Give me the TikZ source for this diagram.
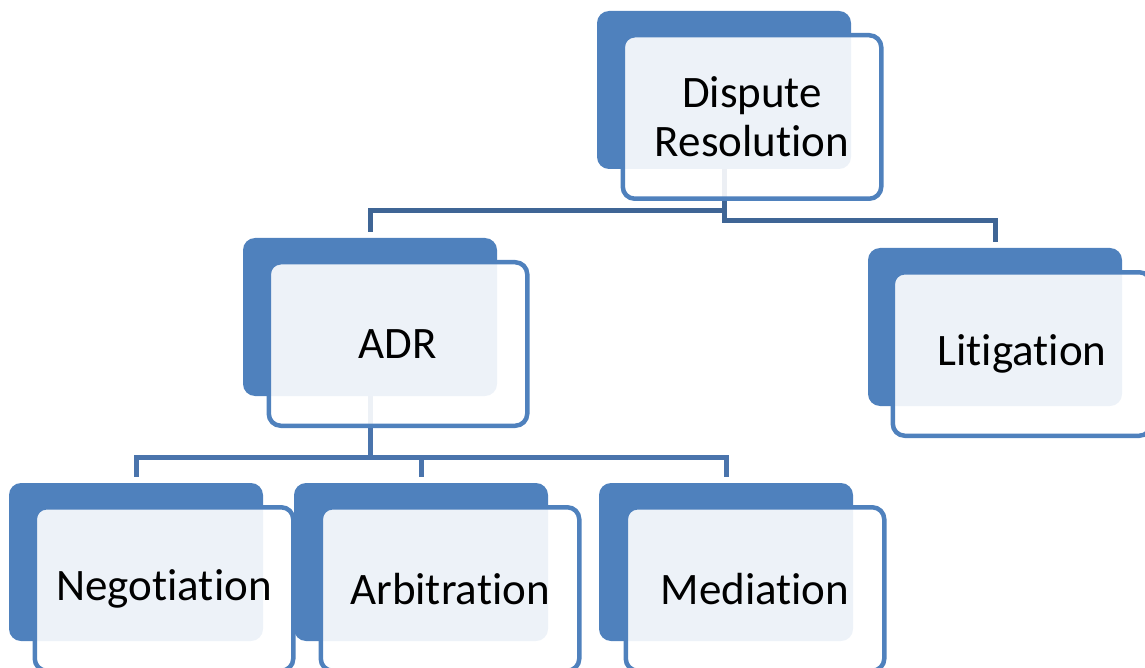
\documentclass[tikz,border=0pt]{standalone}
\usepackage{fontspec}
\setmainfont[Ligatures=NoCommon]{Carlito}
\usetikzlibrary{positioning}
\definecolor{boxblue}{HTML}{4F81BD}
\definecolor{topline}{HTML}{3F6595}
\definecolor{lowline}{HTML}{4A74AC}
\pgfdeclarelayer{background}
\pgfsetlayers{background,main}
\begin{document}
\begin{tikzpicture}[x=1pt,y=-1pt,
	backbox/.style={rectangle,rounded corners=12pt,fill=boxblue,inner sep=0pt,
		minimum width=254pt,minimum height=158pt},
	frontbox/.style={rectangle,rounded corners=12pt,draw=boxblue,line width=4.5pt,
		fill=white,fill opacity=0.9,text opacity=1,inner sep=0pt,align=center,
		minimum width=258.5pt,minimum height=163.5pt,
		font=\fontsize{45}{49}\selectfont},
	toplink/.style={draw=topline,line width=5pt},
	lowlink/.style={draw=lowline,line width=5pt}]
	\useasboundingbox (0,0) rectangle (1145,668);

	% back boxes
	\node[backbox] at (724,90) (dispback) {};
	\node[backbox] at (370,317) (adrback) {};
	\node[backbox] at (995,327) (litback) {};
	\node[backbox] at (136,562) (negback) {};
	\node[backbox] at (421,562) (arbback) {};
	\node[backbox] at (726,562) (medback) {};

	% front boxes
	\node[frontbox] at (752,117) (disp) {Dispute\\Resolution};
	\node[frontbox] at (398,344) (adr) {ADR};
	\node[frontbox] at (1022,354) (lit) {Litigation};
	\node[frontbox] at (164,589) (neg) {Negotiation};
	\node[frontbox] at (450,589) (arb) {Arbitration};
	\node[frontbox] at (755,589) (med) {Mediation};

	\begin{pgfonlayer}{background}
	\path[toplink] (dispback.center) -- (dispback.center |- 0,211)
		-| ([yshift=6pt]adrback.north);
	\path[toplink] (dispback.center) -- (dispback.center |- 0,221)
		-| ([yshift=6pt]litback.north);
	\path[lowlink] (adrback.center) -- (adrback.center |- 0,457)
		-| ([yshift=6pt]negback.north);
	\path[lowlink] (adrback.center) -- (adrback.center |- 0,457)
		-| ([yshift=6pt]arbback.north);
	\path[lowlink] (adrback.center) -- (adrback.center |- 0,457)
		-| ([yshift=6pt]medback.north);
	\end{pgfonlayer}
\end{tikzpicture}
\end{document}
